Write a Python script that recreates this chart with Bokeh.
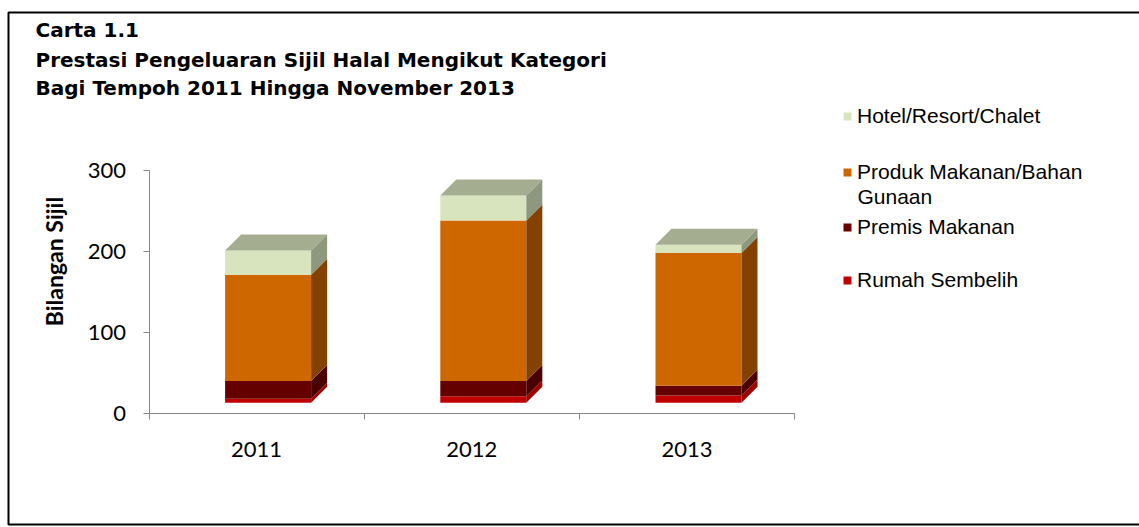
import numpy as np
from bokeh.plotting import figure
from bokeh.models import (Range1d, LinearAxis, FixedTicker, Legend, LegendItem,
                          Label, BoxAnnotation)
from bokeh.embed import file_html
from bokeh.resources import INLINE

# ---------------- data ----------------
years = ["2011", "2012", "2013"]
rumah_sembelih = [5, 8, 9]
premis_makanan = [22, 19, 12]
produk_makanan = [131, 198, 164]
hotel_resort = [30, 31, 10]
series_names = ["Rumah Sembelih", "Premis Makanan",
                "Produk Makanan/Bahan", "Hotel/Resort/Chalet"]
y_ticks = [0, 100, 200, 300]
title_lines = ["Carta 1.1",
               "Prestasi Pengeluaran Sijil Halal Mengikut Kategori",
               "Bagi Tempoh 2011 Hingga November 2013"]
y_label = "Bilangan Sijil"

# ---------------- geometry / style ----------------
W, H = 1139, 527
X0_PX, Y0_PX = 148.5, 413.3      # pixel position of data origin
KX = 215.2                       # px per category
KY = 0.81                        # px per value unit

front_colors = ["#c00000", "#640000", "#cf6700", "#d7e4bd"]
side_colors = ["#a00000", "#4a0000", "#844200", "#8e987f"]
top_color = "#a4ad90"
axis_color = "#868686"

p = figure(width=W, height=H,
           x_range=Range1d(-X0_PX / KX, (W - X0_PX) / KX),
           y_range=Range1d(-(H - Y0_PX) / KY, Y0_PX / KY),
           x_axis_type=None, y_axis_type=None,
           toolbar_location=None, output_backend="svg",
           min_border=0, outline_line_color=None)
p.background_fill_color = "white"
p.border_fill_color = "white"

# ---------------- 3D stacked bars ----------------
front_w = 86 / KX
off_x, off_y = 11.5 / KX, 11 / KY
dep_x, dep_y = 16 / KX, 16 / KY
n = len(years)
centers = np.arange(n) + 0.5
base = np.zeros(n)
series = [rumah_sembelih, premis_makanan, produk_makanan, hotel_resort]
renderers = []
for k, vals in enumerate(series):
    vals = np.asarray(vals, dtype=float)
    L = centers + off_x - front_w / 2
    R = L + front_w
    b = base + off_y
    t = b + vals
    r = p.quad(left=L, right=R, bottom=b, top=t,
               fill_color=front_colors[k], line_color=None)
    renderers.append(r)
    xs = [[R[i], R[i], R[i] + dep_x, R[i] + dep_x] for i in range(n)]
    ys = [[b[i], t[i], t[i] + dep_y, b[i] + dep_y] for i in range(n)]
    p.patches(xs, ys, fill_color=side_colors[k], line_color=None)
    if k == len(series) - 1:
        xs = [[L[i], R[i], R[i] + dep_x, L[i] + dep_x] for i in range(n)]
        ys = [[t[i], t[i], t[i] + dep_y, t[i] + dep_y] for i in range(n)]
        p.patches(xs, ys, fill_color=top_color, line_color=None)
    base += vals

# ---------------- axes ----------------
yax = LinearAxis(fixed_location=0, bounds=(0, 300),
                 ticker=FixedTicker(ticks=y_ticks, minor_ticks=[]))
yax.axis_line_color = axis_color
yax.major_tick_line_color = axis_color
yax.major_tick_in = 0
yax.major_tick_out = 6
yax.minor_tick_line_color = None
yax.major_label_text_font = "Lato"
yax.major_label_text_font_size = "22px"
yax.major_label_text_color = "black"
yax.major_label_standoff = 17
p.add_layout(yax, "left")

p.add_layout(Label(x=53, y=H - 261, x_units="screen", y_units="screen",
                   text=y_label, angle=np.pi / 2, text_font="Lato",
                   text_font_style="bold", text_font_size="23px",
                   text_color="black", text_align="center",
                   text_baseline="middle"))

xticks = list(centers)
xax = LinearAxis(fixed_location=0, bounds=(0, n),
                 ticker=FixedTicker(ticks=xticks, minor_ticks=list(range(n + 1))))
xax.major_label_overrides = {float(c): y for c, y in zip(xticks, years)}
xax.axis_line_color = axis_color
xax.major_tick_line_color = None
xax.major_tick_in = 0
xax.major_tick_out = 0
xax.minor_tick_line_color = axis_color
xax.minor_tick_in = 0
xax.minor_tick_out = 6
xax.major_label_text_font = "Lato"
xax.major_label_text_font_size = "22px"
xax.major_label_text_color = "black"
xax.major_label_standoff = 22
p.add_layout(xax, "below")

# ---------------- legend (top to bottom) ----------------
legend_rows = [(3, 116), (2, 172), (1, 227), (0, 280)]
for k, cy in legend_rows:
    lg = Legend(items=[LegendItem(label=series_names[k], renderers=[renderers[k]])],
                location=(842, H - (cy + 12)),
                glyph_width=10, glyph_height=10, label_standoff=5,
                padding=0, margin=0, spacing=0,
                border_line_color=None, background_fill_alpha=0,
                label_text_font="Liberation Sans", label_text_font_size="21px",
                label_text_color="black", label_height=20)
    p.add_layout(lg)

p.add_layout(Label(x=857, y=H - 196, x_units="screen", y_units="screen",
                   text="Gunaan", text_font="Liberation Sans",
                   text_font_size="21px", text_color="black",
                   text_baseline="middle"))

# ---------------- title ----------------
for line, base_y in zip(title_lines, [29, 59, 87]):
    p.add_layout(Label(x=35, y=H - base_y, x_units="screen", y_units="screen",
                       text=line, text_font="DejaVu Sans", text_font_style="bold",
                       text_font_size="20px", text_color="black",
                       text_baseline="alphabetic"))

# ---------------- outer frame ----------------
p.add_layout(BoxAnnotation(left=8, right=W + 20, top=H - 12, bottom=H - 524,
                           left_units="screen", right_units="screen",
                           top_units="screen", bottom_units="screen",
                           fill_alpha=0, line_color="black", line_alpha=1,
                           line_width=2))

open("out.html", "w").write(file_html(p, INLINE))
